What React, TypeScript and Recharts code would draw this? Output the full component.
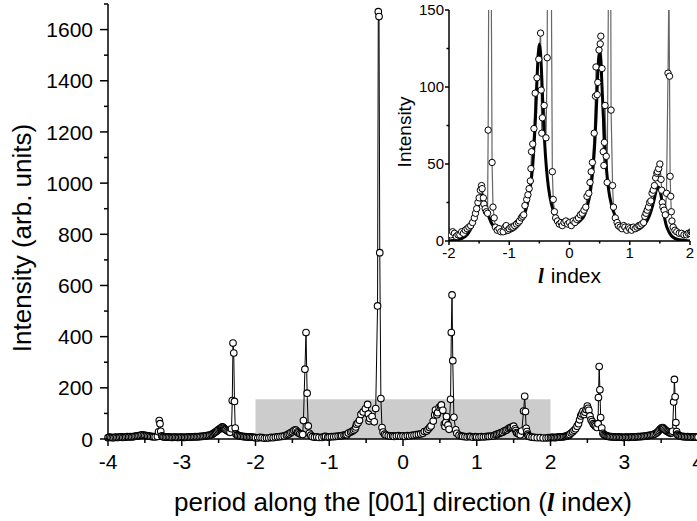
import { LineChart, Line, XAxis, YAxis, ReferenceArea } from "recharts";

// [l index, intensity]
const SCAN: [number, number][] = [
  [-4.0, 5], [-3.98, 7], [-3.96, 6], [-3.94, 5], [-3.92, 5], [-3.9, 7], [-3.88, 6], [-3.86, 6],
  [-3.84, 7], [-3.82, 8], [-3.8, 6], [-3.78, 7], [-3.76, 7], [-3.74, 9], [-3.72, 8], [-3.7, 9],
  [-3.68, 8], [-3.66, 9], [-3.64, 10], [-3.62, 11], [-3.6, 12], [-3.58, 13], [-3.56, 14], [-3.54, 16],
  [-3.52, 15], [-3.5, 14], [-3.48, 13], [-3.46, 12], [-3.44, 11], [-3.42, 10], [-3.4, 9], [-3.38, 9],
  [-3.36, 8], [-3.33, 10], [-3.315, 28], [-3.305, 72], [-3.295, 60], [-3.285, 30], [-3.27, 12], [-3.255, 9],
  [-3.24, 8], [-3.22, 7], [-3.2, 7], [-3.18, 8], [-3.16, 7], [-3.14, 6], [-3.12, 6], [-3.1, 7],
  [-3.08, 7], [-3.06, 6], [-3.04, 6], [-3.02, 7], [-3.0, 7], [-2.98, 6], [-2.96, 6], [-2.94, 7],
  [-2.92, 7], [-2.9, 8], [-2.88, 7], [-2.86, 8], [-2.84, 8], [-2.82, 9], [-2.8, 8], [-2.78, 9],
  [-2.76, 9], [-2.74, 10], [-2.72, 10], [-2.7, 11], [-2.68, 12], [-2.66, 13], [-2.64, 14], [-2.62, 15],
  [-2.6, 17], [-2.585, 19], [-2.57, 22], [-2.555, 25], [-2.54, 28], [-2.525, 31], [-2.51, 35], [-2.495, 38],
  [-2.48, 41], [-2.47, 43], [-2.46, 45], [-2.45, 47], [-2.44, 46], [-2.43, 43], [-2.42, 40], [-2.41, 38],
  [-2.4, 36], [-2.385, 33], [-2.37, 30], [-2.355, 28], [-2.345, 26], [-2.325, 40], [-2.315, 150], [-2.305, 375],
  [-2.295, 336], [-2.285, 147], [-2.275, 43], [-2.265, 20], [-2.25, 16], [-2.24, 14], [-2.22, 12], [-2.2, 11],
  [-2.18, 10], [-2.16, 9], [-2.14, 9], [-2.12, 8], [-2.1, 7], [-2.08, 8], [-2.06, 7], [-2.04, 7],
  [-2.02, 6], [-2.0, 5], [-1.97, 4], [-1.94, 6], [-1.91, 5], [-1.88, 3], [-1.85, 4], [-1.82, 4],
  [-1.79, 6], [-1.76, 5], [-1.73, 7], [-1.7, 8], [-1.67, 9], [-1.64, 10], [-1.61, 12], [-1.58, 15],
  [-1.56, 18], [-1.54, 21], [-1.52, 25], [-1.5, 28], [-1.48, 33], [-1.46, 36], [-1.45, 34], [-1.43, 28],
  [-1.42, 24], [-1.4, 21], [-1.38, 19], [-1.36, 18], [-1.35, 72], [-1.33, 273], [-1.315, 416], [-1.3, 179],
  [-1.285, 51], [-1.27, 22], [-1.25, 15], [-1.23, 9], [-1.2, 7], [-1.17, 8], [-1.14, 6], [-1.1, 6],
  [-1.07, 9], [-1.05, 10], [-1.02, 7], [-1.0, 8], [-0.97, 9], [-0.94, 9], [-0.91, 10], [-0.88, 11],
  [-0.85, 12], [-0.83, 13], [-0.8, 15], [-0.78, 16], [-0.76, 17], [-0.74, 23], [-0.71, 27], [-0.69, 30],
  [-0.67, 34], [-0.65, 39], [-0.64, 47], [-0.63, 58], [-0.61, 63], [-0.59, 73], [-0.57, 96], [-0.54, 106],
  [-0.51, 118], [-0.48, 135], [-0.47, 98], [-0.46, 70], [-0.45, 80], [-0.42, 88], [-0.39, 67], [-0.37, 119],
  [-0.345, 520], [-0.335, 1670], [-0.325, 1651], [-0.315, 728], [-0.3, 158], [-0.285, 45], [-0.27, 27], [-0.25, 19],
  [-0.23, 15], [-0.2, 13], [-0.17, 11], [-0.14, 12], [-0.12, 10], [-0.09, 12], [-0.06, 13], [-0.03, 11],
  [0.0, 12], [0.03, 10], [0.06, 13], [0.09, 12], [0.12, 14], [0.15, 15], [0.18, 17], [0.21, 18],
  [0.24, 20], [0.27, 22], [0.29, 29], [0.32, 31], [0.34, 38], [0.36, 45], [0.38, 51], [0.41, 70],
  [0.43, 94], [0.44, 113], [0.46, 95], [0.47, 103], [0.49, 124], [0.51, 128], [0.52, 133], [0.54, 112],
  [0.56, 58], [0.57, 49], [0.58, 64], [0.59, 88], [0.61, 55], [0.625, 38], [0.645, 155], [0.655, 416],
  [0.665, 563], [0.675, 306], [0.69, 85], [0.715, 36], [0.73, 22], [0.76, 15], [0.79, 12], [0.81, 10],
  [0.84, 9], [0.87, 8], [0.9, 10], [0.92, 9], [0.95, 7], [0.98, 9], [1.0, 8], [1.03, 7],
  [1.06, 9], [1.09, 8], [1.12, 9], [1.15, 10], [1.17, 10], [1.2, 11], [1.23, 12], [1.25, 16],
  [1.27, 18], [1.29, 20], [1.31, 22], [1.33, 25], [1.35, 26], [1.37, 31], [1.39, 33], [1.41, 36],
  [1.43, 41], [1.45, 44], [1.46, 45], [1.48, 47], [1.5, 50], [1.52, 40], [1.53, 33], [1.54, 25],
  [1.55, 22], [1.57, 20], [1.59, 17], [1.61, 31], [1.635, 109], [1.65, 167], [1.66, 107], [1.67, 42],
  [1.68, 29], [1.69, 19], [1.7, 13], [1.72, 9], [1.75, 7], [1.78, 6], [1.82, 5], [1.86, 5],
  [1.9, 4], [1.94, 4], [1.97, 5], [2.0, 5], [2.02, 6], [2.04, 6], [2.06, 5], [2.08, 6],
  [2.1, 7], [2.12, 7], [2.14, 8], [2.16, 8], [2.18, 9], [2.2, 10], [2.215, 11], [2.23, 13],
  [2.245, 15], [2.26, 18], [2.28, 23], [2.3, 28], [2.32, 34], [2.34, 40], [2.36, 50], [2.38, 60],
  [2.395, 75], [2.41, 90], [2.425, 98], [2.44, 108], [2.455, 96], [2.47, 105], [2.485, 115], [2.5, 129],
  [2.51, 120], [2.52, 112], [2.535, 90], [2.55, 75], [2.565, 68], [2.58, 60], [2.595, 55], [2.61, 50],
  [2.63, 45], [2.645, 60], [2.65, 162], [2.66, 283], [2.67, 192], [2.68, 84], [2.695, 43], [2.71, 22],
  [2.725, 18], [2.74, 15], [2.755, 13], [2.77, 11], [2.785, 10], [2.8, 9], [2.82, 9], [2.84, 8],
  [2.86, 8], [2.88, 7], [2.9, 7], [2.92, 8], [2.94, 7], [2.96, 7], [2.98, 6], [3.0, 6],
  [3.02, 7], [3.04, 7], [3.06, 6], [3.08, 7], [3.1, 8], [3.12, 8], [3.14, 7], [3.16, 8],
  [3.18, 9], [3.2, 9], [3.22, 9], [3.24, 10], [3.26, 10], [3.28, 11], [3.3, 12], [3.32, 13],
  [3.34, 14], [3.36, 15], [3.38, 16], [3.4, 18], [3.42, 21], [3.44, 24], [3.455, 28], [3.47, 33],
  [3.485, 38], [3.5, 42], [3.51, 44], [3.52, 45], [3.53, 43], [3.54, 40], [3.555, 36], [3.57, 32],
  [3.585, 29], [3.6, 27], [3.615, 24], [3.63, 22], [3.645, 24], [3.655, 30], [3.67, 145], [3.68, 233],
  [3.69, 165], [3.7, 64], [3.71, 29], [3.72, 19], [3.73, 15], [3.745, 13], [3.76, 11], [3.78, 10],
  [3.8, 9], [3.82, 9], [3.84, 8], [3.86, 9], [3.88, 8], [3.9, 8], [3.92, 7], [3.94, 8],
  [3.96, 8], [3.98, 7], [4.0, 7],
];

// fitted profile shown in the inset
const FIT: [number, number][] = [
  [-2.0, 0], [-1.9, 0.5], [-1.8, 1.5], [-1.7, 4], [-1.65, 7], [-1.6, 11], [-1.55, 17], [-1.5, 25],
  [-1.47, 29], [-1.45, 30], [-1.43, 29], [-1.4, 24], [-1.35, 17], [-1.3, 12], [-1.25, 9], [-1.2, 7],
  [-1.1, 5], [-1.0, 6], [-0.9, 8], [-0.8, 13], [-0.75, 17], [-0.7, 24], [-0.65, 35], [-0.62, 45],
  [-0.6, 55], [-0.58, 68], [-0.56, 84], [-0.54, 104], [-0.52, 121], [-0.5, 128], [-0.48, 122], [-0.46, 106],
  [-0.44, 86], [-0.42, 69], [-0.4, 56], [-0.38, 46], [-0.35, 35], [-0.3, 24], [-0.25, 18], [-0.2, 14],
  [-0.1, 11], [0.0, 10], [0.1, 11], [0.2, 14], [0.25, 17], [0.3, 23], [0.35, 33], [0.38, 43],
  [0.4, 52], [0.42, 64], [0.44, 80], [0.46, 100], [0.48, 117], [0.5, 123], [0.52, 117], [0.54, 100],
  [0.56, 82], [0.58, 66], [0.6, 53], [0.63, 40], [0.65, 33], [0.7, 23], [0.75, 17], [0.8, 13],
  [0.9, 9], [1.0, 7], [1.1, 7], [1.2, 9], [1.3, 14], [1.35, 19], [1.4, 26], [1.44, 33],
  [1.47, 35], [1.5, 33], [1.53, 27], [1.56, 19], [1.6, 11], [1.65, 6], [1.7, 3], [1.8, 1],
  [1.9, 0.5], [2.0, 0],
];

const MAIN_X_TICKS = [-4, -3.5, -3, -2.5, -2, -1.5, -1, -0.5, 0, 0.5, 1, 1.5, 2, 2.5, 3, 3.5, 4];
const MAIN_Y_TICKS = [0, 100, 200, 300, 400, 500, 600, 700, 800, 900, 1000, 1100, 1200, 1300, 1400, 1500, 1600, 1700];
const INSET_X_TICKS = [-2, -1.5, -1, -0.5, 0, 0.5, 1, 1.5, 2];
const INSET_Y_TICKS = [0, 25, 50, 75, 100, 125, 150];
const BOX_L: [number, number] = [-2, 2];
const BOX_I: [number, number] = [0, 155];

const scanData = SCAN.map(([l, i]) => ({ l, i }));
const fitData = FIT.map(([l, i]) => ({ l, i }));

const FONT = "'Liberation Sans', Arial, sans-serif";

const xTick = (isMajor: (v: number) => boolean, big: number, small: number, dy: number, fs: number) =>
  (props: any) => {
    const { x, y, payload } = props;
    const v = payload.value as number;
    const major = isMajor(v);
    return (
      <g>
        <line x1={x} x2={x} y1={y} y2={y + (major ? big : small)} stroke="#000" strokeWidth={1.5} />
        {major && (
          <text x={x} y={y + dy} textAnchor="middle" fontSize={fs} fill="#000" fontFamily={FONT}>
            {v}
          </text>
        )}
      </g>
    );
  };

const yTick = (isMajor: (v: number) => boolean, big: number, small: number, dx: number, fs: number) =>
  (props: any) => {
    const { x, y, payload } = props;
    const v = payload.value as number;
    const major = isMajor(v);
    return (
      <g>
        <line x1={x - (major ? big : small)} x2={x} y1={y} y2={y} stroke="#000" strokeWidth={1.5} />
        {major && (
          <text x={x - dx} y={y + fs * 0.36} textAnchor="end" fontSize={fs} fill="#000" fontFamily={FONT}>
            {v}
          </text>
        )}
      </g>
    );
  };

const isInt = (v: number) => Math.abs(v - Math.round(v)) < 1e-6;

export default function App() {
  return (
    <div
      style={{
        position: "absolute",
        left: 0,
        top: 0,
        width: 697,
        height: 521,
        overflow: "hidden",
        background: "#fff",
        fontFamily: FONT,
      }}
    >
      <div style={{ position: "absolute", left: 0, top: 0 }}>
        <LineChart width={760} height={521} data={scanData} margin={{ top: 4, right: 62, left: 0, bottom: 0 }}>
          <XAxis
            type="number"
            dataKey="l"
            domain={[-4, 4]}
            ticks={MAIN_X_TICKS}
            interval={0}
            height={82}
            tickSize={0}
            tickMargin={0}
            tickLine={false}
            axisLine={{ stroke: "#000", strokeWidth: 1.5 }}
            tick={xTick(isInt, 7, 4, 30, 21)}
            label={{
              content: (p: any) => {
                const vb = p.viewBox;
                return (
                  <text x={vb.x + vb.width / 2} y={vb.y + 72} textAnchor="middle" fontSize={26} fill="#000" fontFamily={FONT}>
                    period along the [001] direction (
                    <tspan fontStyle="italic" fontWeight="bold" fontFamily="'Liberation Serif', serif">l</tspan>
                    <tspan dx={7}>index)</tspan>
                  </text>
                );
              },
            }}
          />
          <YAxis
            type="number"
            domain={[0, 1700]}
            ticks={MAIN_Y_TICKS}
            interval={0}
            width={108}
            tickSize={0}
            tickMargin={0}
            tickLine={false}
            axisLine={{ stroke: "#000", strokeWidth: 1.5 }}
            tick={yTick((v) => v % 200 === 0, 8, 4, 15, 21)}
            label={{
              content: () => (
                <text
                  x={31}
                  y={238}
                  transform="rotate(-90, 31, 238)"
                  textAnchor="middle"
                  fontSize={26}
                  fill="#000"
                  fontFamily={FONT}
                >
                  Intensity (arb. units)
                </text>
              ),
            }}
          />
          <ReferenceArea x1={BOX_L[0]} x2={BOX_L[1]} y1={BOX_I[0]} y2={BOX_I[1]} fill="#cccccc" fillOpacity={1} stroke="none" />
          <Line
            type="linear"
            dataKey="i"
            stroke="#000"
            strokeWidth={1}
            dot={{ r: 3.3, fill: "#fff", stroke: "#000", strokeWidth: 1.1 }}
            activeDot={false}
            isAnimationActive={false}
          />
        </LineChart>
      </div>

      <div style={{ position: "absolute", left: 390, top: 0 }}>
        <LineChart width={310} height={290} margin={{ top: 10, right: 10, left: 0, bottom: 0 }}>
          <XAxis
            type="number"
            dataKey="l"
            domain={[-2, 2]}
            allowDataOverflow
            ticks={INSET_X_TICKS}
            interval={0}
            height={49}
            tickSize={0}
            tickMargin={0}
            tickLine={false}
            axisLine={{ stroke: "#000", strokeWidth: 1.5 }}
            tick={xTick(isInt, 4, 2.5, 17, 15)}
            label={{
              content: (p: any) => {
                const vb = p.viewBox;
                return (
                  <text x={vb.x + vb.width / 2} y={283} textAnchor="middle" fontSize={21} fill="#000" fontFamily={FONT}>
                    <tspan fontStyle="italic" fontWeight="bold" fontFamily="'Liberation Serif', serif">l</tspan>
                    <tspan dx={7}>index</tspan>
                  </text>
                );
              },
            }}
          />
          <YAxis
            type="number"
            domain={[0, 150]}
            allowDataOverflow
            ticks={INSET_Y_TICKS}
            interval={0}
            width={59}
            tickSize={0}
            tickMargin={0}
            tickLine={false}
            axisLine={{ stroke: "#000", strokeWidth: 1.5 }}
            tick={yTick((v) => v % 50 === 0, 4, 2.5, 5, 15)}
            label={{
              content: () => (
                <text
                  x={21}
                  y={132}
                  transform="rotate(-90, 21, 132)"
                  textAnchor="middle"
                  fontSize={19}
                  fill="#000"
                  fontFamily={FONT}
                >
                  Intensity
                </text>
              ),
            }}
          />
          <Line
            data={scanData}
            type="linear"
            dataKey="i"
            stroke="#666"
            strokeWidth={1.2}
            dot={false}
            activeDot={false}
            isAnimationActive={false}
          />
          <Line
            data={fitData}
            type="monotone"
            dataKey="i"
            stroke="#000"
            strokeWidth={3}
            dot={false}
            activeDot={false}
            isAnimationActive={false}
          />
          <Line
            data={scanData}
            type="linear"
            dataKey="i"
            stroke="none"
            dot={{ r: 3.2, fill: "#fff", stroke: "#000", strokeWidth: 1 }}
            activeDot={false}
            isAnimationActive={false}
          />
        </LineChart>
      </div>
    </div>
  );
}
